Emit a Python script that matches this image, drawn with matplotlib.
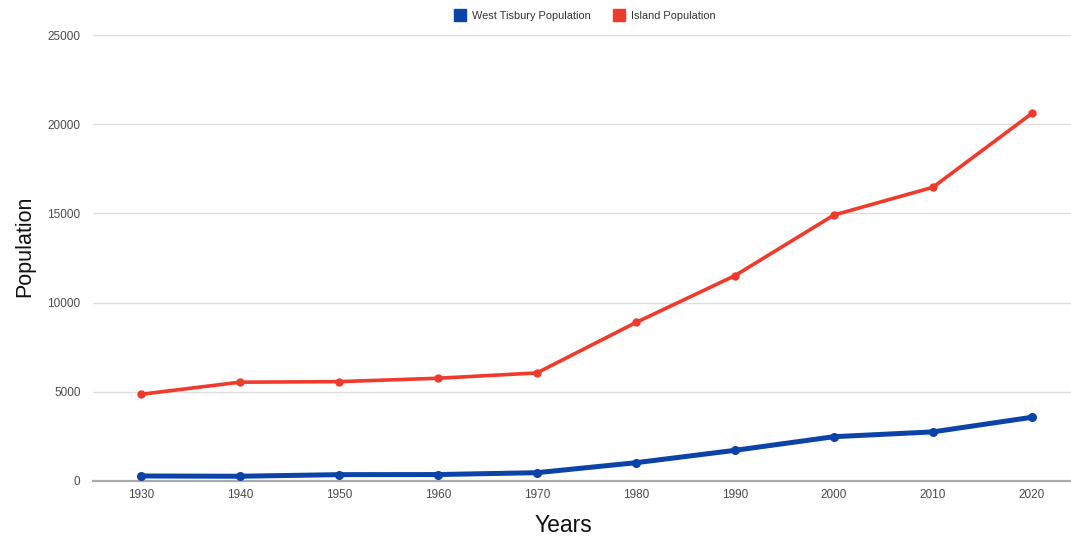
import matplotlib
matplotlib.use("Agg")
import matplotlib.pyplot as plt
from matplotlib.lines import Line2D

years = [1930, 1940, 1950, 1960, 1970, 1980, 1990, 2000, 2010, 2020]
west_tisbury = [265, 250, 340, 345, 450, 1010, 1705, 2470, 2740, 3560]
island = [4850, 5530, 5560, 5750, 6050, 8880, 11510, 14910, 16470, 20615]
y_ticks = [0, 5000, 10000, 15000, 20000, 25000]

blue = '#0b43a6'
red = '#ef3a2c'

plt.rcParams['font.family'] = ['Liberation Sans', 'DejaVu Sans']

fig = plt.figure(figsize=(10.71, 5.40), dpi=100)
ax = fig.add_axes([93 / 1071, 59.3 / 540, 1 - 93 / 1071, 445.4 / 540])

ax.plot(years, island, color=red, lw=2.6, marker='o', ms=5, zorder=3)
ax.plot(years, west_tisbury, color=blue, lw=3.6, marker='o', ms=5.5, zorder=3)

ax.set_xlim(1930 - 4.85, 2020 + 3.95)
ax.set_ylim(0, 25000)
ax.set_xticks(years)
ax.set_yticks(y_ticks)
ax.tick_params(axis='both', length=0, labelsize=8.5, labelcolor='#4a4a4a')
ax.tick_params(axis='y', pad=9)
ax.tick_params(axis='x', pad=6)
ax.grid(axis='y', color='#dddddd', lw=1)
ax.set_axisbelow(True)
for s in ['top', 'right', 'left']:
    ax.spines[s].set_visible(False)
ax.spines['bottom'].set_color('#aaaaaa')
ax.spines['bottom'].set_linewidth(1.6)

fig.text(25 / 1071, 1 - 246 / 540, 'Population', rotation=90, ha='center', va='center',
         fontsize=15.5, color='#111111')
fig.text(563 / 1071, 1 - 525 / 540, 'Years', ha='center', va='center',
         fontsize=16.5, color='#111111')

handles = [Line2D([], [], ls='none', marker='s', ms=9, color=blue),
           Line2D([], [], ls='none', marker='s', ms=9, color=red)]
fig.legend(handles, ['West Tisbury Population', 'Island Population'],
           loc='center', bbox_to_anchor=(585 / 1071, 1 - 16 / 540), ncol=2,
           frameon=False, fontsize=7.9, handlelength=1.0, handletextpad=0.6,
           columnspacing=2.0, labelcolor='#333333')

fig.savefig('out.png', dpi=100, facecolor='white')
